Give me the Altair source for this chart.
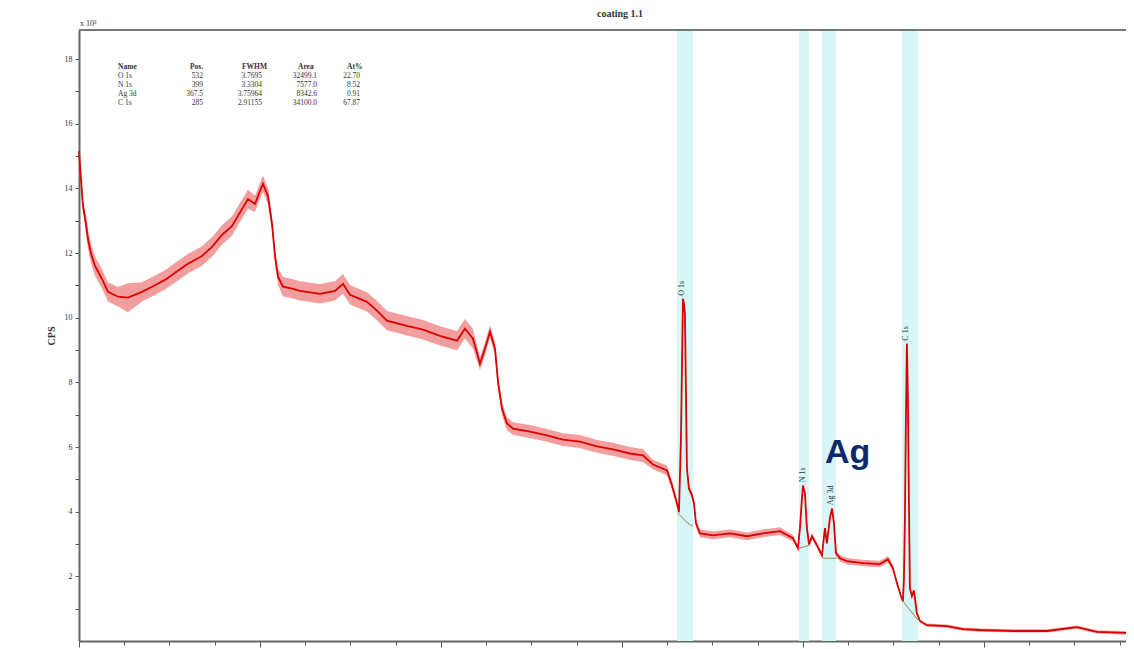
import altair as alt
import pandas as pd

# ---- spectrum (binding energy eV, CPS x1000) ----
be = [1200, 1197.8, 1195.6, 1192.3, 1190.1, 1186.7, 1182.3, 1174.6, 1168.0, 1156.9,
      1145.9, 1130.4, 1119.3, 1105.0, 1093.9, 1079.6, 1064.1, 1053.0, 1042.0, 1030.9,
      1019.9, 1013.3, 1005.5, 1000.0, 996.7, 991.2, 986.7, 983.4, 980.1, 974.6,
      964.6, 955.8, 933.7, 917.1, 908.3, 900.5, 881.8, 870.7, 859.7, 837.6,
      819.9, 801.1, 782.3, 773.5, 764.6, 756.9, 751.4, 745.8, 740.3, 737.0,
      732.6, 727.1, 720.4, 701.6, 682.9, 665.2, 646.4, 627.6, 610.0, 591.1,
      576.8, 565.7, 550.2, 544.7, 539.2, 537.0, 534.8, 532.6, 531.5, 530.4,
      528.2, 526.0, 522.6, 520.4, 518.2, 513.8, 499.4, 480.6, 461.8, 444.2,
      425.4, 411.0, 405.5, 403.3, 401.1, 400.0, 397.8, 395.6, 393.3, 390.0,
      384.5, 379.0, 375.7, 373.5, 370.2, 367.9, 365.7, 363.5, 359.1, 351.4,
      333.7, 314.9, 306.1, 300.5, 296.1, 291.7, 289.5, 288.4, 287.3, 286.2,
      285.1, 284.0, 282.9, 281.8, 279.6, 277.4, 274.1, 270.7, 263.0, 240.9,
      223.2, 204.4, 167.9, 130.3, 97.2, 75.1, 43]
cps = [15.15, 14.29, 13.46, 12.90, 12.44, 11.98, 11.60, 11.20, 10.80, 10.65,
       10.62, 10.80, 10.96, 11.17, 11.39, 11.67, 11.91, 12.19, 12.56, 12.84,
       13.36, 13.67, 13.52, 13.92, 14.14, 13.77, 12.90, 11.91, 11.27, 10.96,
       10.90, 10.83, 10.74, 10.83, 11.05, 10.71, 10.49, 10.22, 9.91, 9.75,
       9.63, 9.44, 9.29, 9.66, 9.35, 8.58, 9.04, 9.57, 9.04, 8.02,
       7.19, 6.73, 6.57, 6.48, 6.36, 6.23, 6.17, 6.02, 5.93, 5.80,
       5.74, 5.46, 5.28, 4.81, 4.26, 3.98, 6.27, 10.59, 10.43, 10.12,
       5.34, 4.72, 4.51, 4.26, 3.64, 3.33, 3.27, 3.33, 3.24, 3.33,
       3.40, 3.18, 2.87, 3.49, 4.41, 4.81, 4.57, 3.49, 2.99, 3.24,
       2.96, 2.65, 3.49, 3.02, 3.80, 4.10, 3.64, 2.72, 2.56, 2.47,
       2.41, 2.38, 2.53, 2.25, 1.79, 1.39, 1.23, 1.94, 3.80, 6.88,
       9.20, 7.50, 4.41, 1.64, 1.39, 1.57, 0.86, 0.62, 0.49, 0.46,
       0.37, 0.34, 0.31, 0.31, 0.43, 0.28, 0.25]
noise = [0.15, 0.15, 0.15, 0.3, 0.3, 0.3, 0.3, 0.3, 0.3, 0.3,
         0.45, 0.3, 0.3, 0.3, 0.3, 0.3, 0.3, 0.3, 0.3, 0.3,
         0.3, 0.3, 0.25, 0.25, 0.25, 0.25, 0.2, 0.2, 0.25, 0.3,
         0.3, 0.3, 0.3, 0.3, 0.3, 0.3, 0.3, 0.3, 0.3, 0.3,
         0.3, 0.3, 0.3, 0.3, 0.3, 0.2, 0.2, 0.2, 0.2, 0.2,
         0.2, 0.2, 0.2, 0.2, 0.2, 0.2, 0.2, 0.2, 0.2, 0.2,
         0.2, 0.15, 0.15, 0.15, 0.1, 0.0, 0.0, 0.0, 0.0, 0.0,
         0.0, 0.1, 0.1, 0.1, 0.1, 0.12, 0.12, 0.12, 0.12, 0.12,
         0.12, 0.1, 0.05, 0.0, 0.0, 0.0, 0.0, 0.05, 0.08, 0.08,
         0.08, 0.08, 0.05, 0.05, 0.0, 0.0, 0.05, 0.08, 0.1, 0.1,
         0.1, 0.1, 0.1, 0.1, 0.05, 0.0, 0.0, 0.0, 0.0, 0.0,
         0.0, 0.0, 0.0, 0.0, 0.0, 0.0, 0.05, 0.05, 0.05, 0.05,
         0.05, 0.05, 0.05, 0.05, 0.05, 0.05, 0.05]

# ---- Shirley background segments ----
bg_peak = ["O 1s", "O 1s", "O 1s", "N 1s", "N 1s", "Ag 3d", "Ag 3d", "C 1s", "C 1s", "C 1s"]
bg_be = [538.1, 527.1, 521.5, 404.0, 393.0, 378.0, 362.5, 289.5, 281.8, 272.9]
bg_cps = [3.95, 3.64, 3.55, 2.87, 2.96, 2.56, 2.56, 1.23, 0.96, 0.65]

# ---- peak regions and labels ----
peak_names = ["O 1s", "N 1s", "Ag 3d", "C 1s"]
region_start = [539.2, 404.4, 379.0, 290.6]
region_end = [521.5, 393.3, 363.5, 272.9]
peak_pos = [532, 399, 367.5, 285]
label_base = [10.68, 4.91, 4.2, 9.29]

# ---- quantification table ----
tab_header = ["Name", "Pos.", "FWHM", "Area", "At%"]
tab_name = ["O 1s", "N 1s", "Ag 3d", "C 1s"]
tab_pos = ["532", "399", "367.5", "285"]
tab_fwhm = ["3.7695", "3.3304", "3.75964", "2.91155"]
tab_area = ["32499.1", "7577.0", "8342.6", "34100.0"]
tab_at = ["22.70", "8.52", "0.91", "67.87"]

y_ticks = [1, 2, 3, 4, 5, 6, 7, 8, 9, 10, 11, 12, 13, 14, 15, 16, 17, 18]
x_ticks = list(range(50, 1201, 50))

W, H = 1047, 611
XDOM = [1200, 43]
YDOM = [0, 18.9]
RED = "#dd0000"
SERIF = "Liberation Serif"

spec = pd.DataFrame({"be": be, "cps": cps, "noise": noise})
spec["lo"] = spec["cps"] - spec["noise"]
spec["hi"] = spec["cps"] + spec["noise"]
bg = pd.DataFrame({"peak": bg_peak, "be": bg_be, "cps": bg_cps})
regions = pd.DataFrame({"name": peak_names, "s": region_start, "e": region_end,
                        "pos": peak_pos, "lab": label_base})

xs = alt.Scale(domain=XDOM, nice=False, zero=False)
ys = alt.Scale(domain=YDOM, nice=False, zero=False)

xax = alt.Axis(values=x_ticks, labels=False, grid=False, title=None,
               tickSize={"condition": {"test": "datum.value % 200 == 0", "value": 6}, "value": 4},
               tickColor="#555", domainColor="#666", domainWidth=2, orient="bottom")
yax = alt.Axis(values=y_ticks, grid=False, title="CPS", orient="left",
               labelExpr="datum.value % 2 == 0 ? datum.label : ''",
               labelOverlap=False, labelFontSize=8, labelFont=SERIF, labelColor="#333",
               tickSize=4, tickColor="#555", domainColor="#666", domainWidth=2,
               titleFont=SERIF, titleFontSize=10, titleColor="#333", titlePadding=8,
               labelPadding=3)

X = lambda f: alt.X(f, scale=xs, axis=xax)
Y = lambda f: alt.Y(f, scale=ys, axis=yax)

bands = alt.Chart(regions).mark_rect(color="#d6f6f8").encode(
    x=X("s:Q"), x2="e:Q", y=alt.value(0), y2=alt.value(H))

fuzz = alt.Chart(spec).mark_area(color=RED, opacity=0.38).encode(
    x=X("be:Q"), y=Y("lo:Q"), y2=alt.Y2("hi:Q"))

line = alt.Chart(spec).mark_line(color=RED, strokeWidth=1.8).encode(
    x=X("be:Q"), y=Y("cps:Q"))

bgline = alt.Chart(bg).mark_line(color="#9c8a48", strokeWidth=1).encode(
    x=X("be:Q"), y=Y("cps:Q"), detail="peak:N")

labels = alt.Chart(regions).mark_text(angle=270, align="left", baseline="middle",
                                      font=SERIF, fontSize=8, color="#333", dy=-1).encode(
    x=X("pos:Q"), y=Y("lab:Q"), text="name:N")

layers = [bands, fuzz, line, bgline, labels]

# top frame line
layers.append(alt.Chart(pd.DataFrame({"a": [0]})).mark_rule(color="#777", strokeWidth=2).encode(
    x=alt.value(0), x2=alt.value(W), y=alt.value(0)))

# title and multiplier
layers.append(alt.Chart(pd.DataFrame({"t": ["coating 1.1"]})).mark_text(
    font=SERIF, fontSize=10, fontWeight="bold", color="#333", align="center",
    baseline="top").encode(x=alt.value(541), y=alt.value(-21), text="t:N"))
layers.append(alt.Chart(pd.DataFrame({"t": ["x 10³"]})).mark_text(
    font=SERIF, fontSize=8, color="#333", align="left", baseline="bottom").encode(
    x=alt.value(1), y=alt.value(-2), text="t:N"))

# table
col_x = [39, 124, 183, 238, 281]
col_align = ["left", "right", "right", "right", "right"]
head_x = [39, 111, 163, 219, 268]
row_y0, row_dy = 37, 9
for hx, h in zip(head_x, tab_header):
    layers.append(alt.Chart(pd.DataFrame({"t": [h]})).mark_text(
        font=SERIF, fontSize=7.5, fontWeight="bold", color="#333", align="left",
        baseline="middle").encode(x=alt.value(hx), y=alt.value(row_y0), text="t:N"))
cols = [tab_name, tab_pos, tab_fwhm, tab_area, tab_at]
for cx, ca, col in zip(col_x, col_align, cols):
    for i, v in enumerate(col):
        layers.append(alt.Chart(pd.DataFrame({"t": [v]})).mark_text(
            font=SERIF, fontSize=7.5, color="#333", align=ca, baseline="middle").encode(
            x=alt.value(cx), y=alt.value(row_y0 + row_dy * (i + 1)), text="t:N"))

# Ag annotation
layers.append(alt.Chart(pd.DataFrame({"t": ["Ag"]})).mark_text(
    font="Liberation Sans", fontSize=34, fontWeight="bold", color="#0b2a6b",
    align="left", baseline="alphabetic").encode(
    x=alt.value(746), y=alt.value(433), text="t:N"))

chart = alt.layer(*layers).properties(
    width=W, height=H,
    autosize=alt.AutoSizeParams(type="none"),
    padding={"left": 71, "top": 22, "right": 0, "bottom": 8},
).configure_view(stroke=None).configure(background="white")

chart.save("out.html", embed_options={"renderer": "svg", "actions": False})
